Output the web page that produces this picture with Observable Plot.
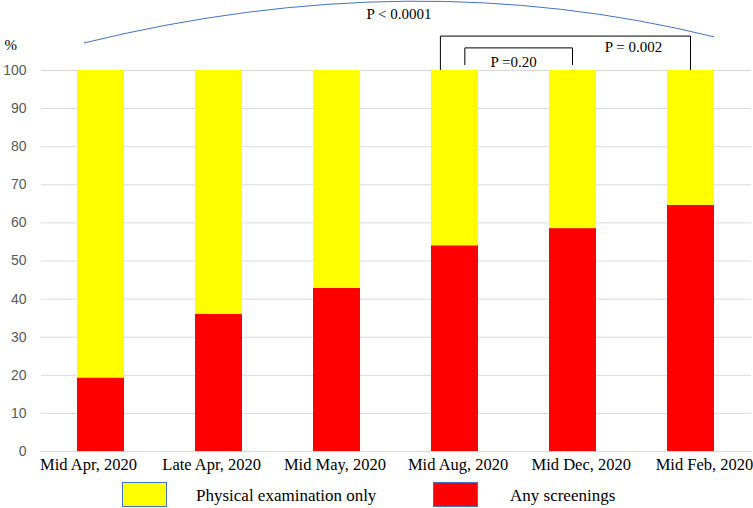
<!DOCTYPE html>
<html>
<head>
<meta charset="utf-8">
<script src="https://cdn.jsdelivr.net/npm/d3@7"></script>
<script src="https://cdn.jsdelivr.net/npm/@observablehq/plot@0.6"></script>
<style>
  body { margin: 0; background: #fff; }
  #wrap { position: relative; width: 753px; height: 508px; font-family: "Liberation Serif", "Times New Roman", serif; }
  .sw { position: absolute; width: 43px; height: 23px; border: 1px solid #4472C4; }
  .lt { position: absolute; font-size: 17px; color: #000; line-height: 1; }
</style>
</head>
<body>
<div id="wrap"></div>
<script>
const categories = ["Mid Apr, 2020", "Late Apr, 2020", "Mid May, 2020", "Mid Aug, 2020", "Mid Dec, 2020", "Mid Feb, 2020"];
const anyScreenings = [19.3, 36.0, 42.8, 54.0, 58.5, 64.6];
const physicalOnly = [80.7, 64.0, 57.2, 46.0, 41.5, 35.4];
const seriesNames = ["Physical examination only", "Any screenings"];
const seriesColors = ["#FFFF00", "#FF0000"];
const yTicks = [0, 10, 20, 30, 40, 50, 60, 70, 80, 90, 100];
const pOverall = "P < 0.0001";
const pComparisons = [
  {from: "Mid Aug, 2020", to: "Mid Dec, 2020", label: "P =0.20"},
  {from: "Mid Aug, 2020", to: "Mid Feb, 2020", label: "P = 0.002"}
];

const rows = categories.map((c, i) => ({cat: c, any: anyScreenings[i], phys: physicalOnly[i]}));

const chart = Plot.plot({
  width: 753,
  height: 478,
  marginLeft: 41,
  marginRight: 2,
  marginTop: 70,
  marginBottom: 27,
  style: {fontFamily: "Liberation Serif, serif", background: "#fff"},
  x: {domain: categories, paddingInner: 0.6, paddingOuter: 0.3, label: null, tickSize: 0, tickPadding: 8},
  y: {domain: [0, 100], ticks: yTicks, label: null, tickSize: 0, tickPadding: 15},
  marks: [
    Plot.ruleY(yTicks, {stroke: "#d9d9d9", strokeWidth: 1}),
    Plot.barY(rows, {x: "cat", y1: 0, y2: "any", fill: seriesColors[1]}),
    Plot.barY(rows, {x: "cat", y1: "any", y2: d => d.any + d.phys, fill: seriesColors[0]}),
    Plot.axisX({tickSize: 0, tickPadding: 7, fontSize: 16.5, fill: "#000", label: null}),
    Plot.axisY({ticks: yTicks, tickSize: 0, tickPadding: 15, fontSize: 14, fill: "#595959", label: null, fontFamily: "Liberation Sans, sans-serif"}),
    Plot.text(["%"], {frameAnchor: "top-left", dx: -37, dy: -31, fontSize: 15, fill: "#000", textAnchor: "start"})
  ]
});

document.getElementById("wrap").appendChild(chart);

// Annotations positioned with the chart's scales
const xs = chart.scale("x"), ys = chart.scale("y");
const bw = xs.bandwidth;
const X = (c, f) => xs.apply(c) + f * bw;
const Y = v => ys.apply(v);
const svg = d3.select(chart);

// category labels in the original are spread slightly wider than the bars
svg.selectAll('g[aria-label="x-axis tick label"] text')
  .attr("dx", (d, i) => (i - 2.5) * 5.2 + 0.5);

const g = svg.append("g").attr("fill", "none");

// overall arc
const ax0 = X(categories[0], 0.15), ay0 = Y(107.1);
const ax1 = X(categories[5], 1.0), ay1 = Y(108.7);
const cx = (ax0 + ax1) / 2 + 13, cy = Y(128.2);
g.append("path")
  .attr("d", `M${ax0},${ay0} Q${cx},${cy} ${ax1},${ay1}`)
  .attr("stroke", "#4472C4").attr("stroke-width", 1);
svg.append("text").attr("x", (ax0 + ax1) / 2).attr("y", Y(114.3))
  .attr("text-anchor", "middle").attr("dominant-baseline", "middle")
  .attr("font-size", 15).attr("font-family", "Liberation Serif, serif").text(pOverall);

// brackets
const inner = pComparisons[0], outer = pComparisons[1];
const ox0 = X(outer.from, 0.2), ox1 = X(outer.to, 0.5), oy = Y(108.9), ob = Y(100);
g.append("path").attr("d", `M${ox0},${ob} V${oy} H${ox1} V${ob}`).attr("stroke", "#000").attr("stroke-width", 1);
const ix0 = X(inner.from, 0.72), ix1 = X(inner.to, 0.5), iy = Y(105.8), ib = Y(101.3);
g.append("path").attr("d", `M${ix0},${ib} V${iy} H${ix1} V${ib}`).attr("stroke", "#000").attr("stroke-width", 1);

svg.append("text").attr("x", (ix0 + ix1) / 2 - 5).attr("y", Y(101.8))
  .attr("text-anchor", "middle").attr("dominant-baseline", "middle")
  .attr("font-size", 15).attr("font-family", "Liberation Serif, serif").text(inner.label);
svg.append("text").attr("x", (ix1 + ox1) / 2 + 2).attr("y", Y(105.5))
  .attr("text-anchor", "middle").attr("dominant-baseline", "middle")
  .attr("font-size", 15).attr("font-family", "Liberation Serif, serif").text(outer.label);

// legend (HTML, below the SVG)
const wrap = document.getElementById("wrap");
const legendPos = [{sx: 122, tx: 196}, {sx: 433, tx: 510}];
seriesNames.forEach((name, i) => {
  const s = document.createElement("div");
  s.className = "sw";
  s.style.left = legendPos[i].sx + "px";
  s.style.top = "482px";
  s.style.background = seriesColors[i];
  wrap.appendChild(s);
  const t = document.createElement("div");
  t.className = "lt";
  t.style.left = legendPos[i].tx + "px";
  t.style.top = "487px";
  t.textContent = name;
  wrap.appendChild(t);
});
</script>
</body>
</html>
